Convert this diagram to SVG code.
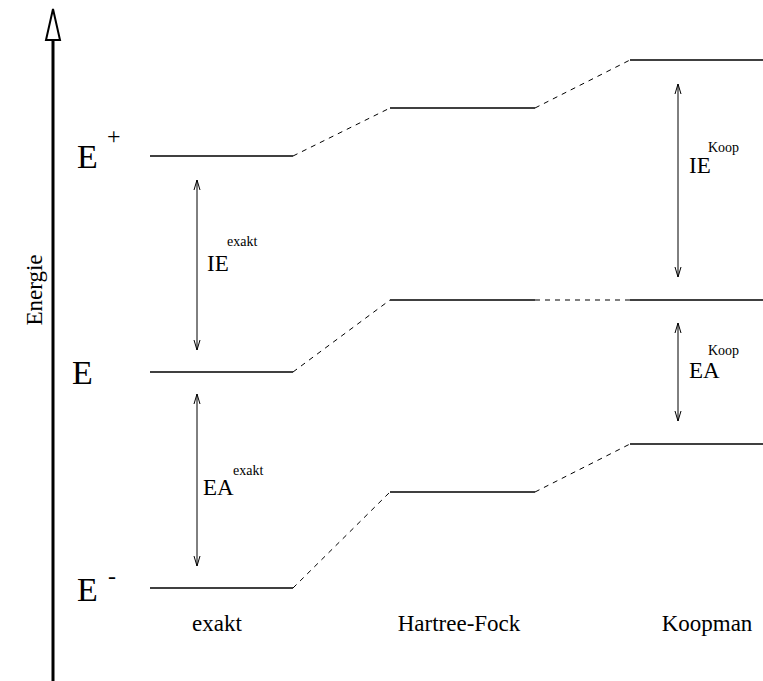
<svg xmlns="http://www.w3.org/2000/svg" width="763" height="681" viewBox="0 0 763 681">
<style>
text{font-family:"Liberation Serif","Times New Roman",serif;fill:#000}
.lvl{stroke:#000;stroke-width:1.5;fill:none}
.dash{stroke:#000;stroke-width:1;stroke-dasharray:5 5;fill:none}
.arr{stroke:#000;stroke-width:1;fill:none;marker-start:url(#ah);marker-end:url(#ah)}
.big{font-size:34px}
.mid{font-size:23px}
.sup{font-size:14px}
</style>
<defs>
<marker id="ah" viewBox="0 0 10 8" refX="10" refY="4" markerWidth="10" markerHeight="8" markerUnits="userSpaceOnUse" orient="auto-start-reverse">
<path d="M0,1 L10,4 L0,7" fill="none" stroke="#000" stroke-width="1"/>
</marker>
</defs>
<g id="axis">
<line x1="53" y1="40" x2="53" y2="681" stroke="#000" stroke-width="3"/>
<polygon points="53,9 46,40 60,40" fill="#fff" stroke="#000" stroke-width="2"/>
<text class="mid" transform="translate(42,290) rotate(-90)" text-anchor="middle">Energie</text>
</g>
<g id="connectors">
<line class="dash" x1="293" y1="156" x2="390" y2="108"/>
<line class="dash" x1="293" y1="372" x2="390" y2="300"/>
<line class="dash" x1="293" y1="588" x2="390" y2="492"/>
<line class="dash" x1="535" y1="108" x2="630" y2="60"/>
<line class="dash" x1="535" y1="300" x2="630" y2="300"/>
<line class="dash" x1="535" y1="492" x2="630" y2="444"/>
<line class="arr" x1="197" y1="180" x2="197" y2="350"/>
<line class="arr" x1="197" y1="394" x2="197" y2="566"/>
<line class="arr" x1="678" y1="84" x2="678" y2="277"/>
<line class="arr" x1="678" y1="323" x2="678" y2="421"/>
</g>
<g id="exakt">
<line class="lvl" x1="150" y1="156" x2="293" y2="156"/>
<line class="lvl" x1="150" y1="372" x2="293" y2="372"/>
<line class="lvl" x1="150" y1="588" x2="293" y2="588"/>
<text class="big" x="77" y="168">E</text>
<text x="107" y="144" style="font-size:24px">+</text>
<text class="big" x="72" y="384">E</text>
<text class="big" x="77" y="601">E</text>
<text x="108" y="584" style="font-size:24px">-</text>
<text class="mid" x="217" y="631" text-anchor="middle">exakt</text>
<text class="mid" x="207" y="271">IE</text>
<text class="sup" x="227" y="246">exakt</text>
<text class="mid" x="203" y="495">EA</text>
<text class="sup" x="233" y="475">exakt</text>
</g>
<g id="hartree-fock">
<line class="lvl" x1="390" y1="108" x2="535" y2="108"/>
<line class="lvl" x1="390" y1="300" x2="535" y2="300"/>
<line class="lvl" x1="390" y1="492" x2="535" y2="492"/>
<text class="mid" x="459" y="631" text-anchor="middle">Hartree-Fock</text>
</g>
<g id="koopman">
<line class="lvl" x1="630" y1="60" x2="763" y2="60"/>
<line class="lvl" x1="630" y1="300" x2="763" y2="300"/>
<line class="lvl" x1="630" y1="444" x2="763" y2="444"/>
<text class="mid" x="707" y="631" text-anchor="middle">Koopman</text>
<text class="mid" x="689" y="173">IE</text>
<text class="sup" x="708" y="152">Koop</text>
<text class="mid" x="689" y="378">EA</text>
<text class="sup" x="708" y="355">Koop</text>
</g>
</svg>
